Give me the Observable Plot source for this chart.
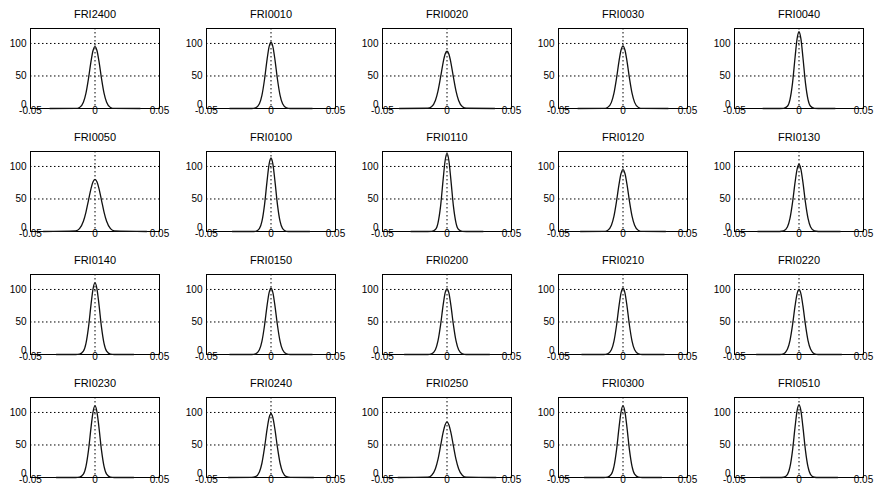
<!DOCTYPE html>
<html>
<head>
<meta charset="utf-8">
<script src="https://cdn.jsdelivr.net/npm/d3@7"></script>
<script src="https://cdn.jsdelivr.net/npm/@observablehq/plot@0.6"></script>
<style>
  html, body { margin: 0; padding: 0; background: #fff; }
  #chart { width: 880px; height: 496px; }
</style>
</head>
<body>
<div id="chart"></div>
<script>
// Panel titles (row-major, 4 rows x 5 columns)
const titles = ["FRI2400","FRI0010","FRI0020","FRI0030","FRI0040",
                "FRI0050","FRI0100","FRI0110","FRI0120","FRI0130",
                "FRI0140","FRI0150","FRI0200","FRI0210","FRI0220",
                "FRI0230","FRI0240","FRI0250","FRI0300","FRI0510"];

// Extent of each sampled curve (where the flat zero line starts / ends)
const lo = [-0.035,-0.032,-0.037,-0.035,-0.028, -0.040,-0.030,-0.028,-0.033,-0.032,
            -0.030,-0.032,-0.033,-0.032,-0.033, -0.030,-0.033,-0.038,-0.030,-0.030];
const hi = [ 0.035, 0.032, 0.037, 0.035, 0.028,  0.040, 0.030, 0.028, 0.033, 0.032,
             0.030, 0.032, 0.033, 0.032, 0.033,  0.030, 0.033, 0.038, 0.030, 0.030];

// Shared sample positions around the peak
const xs = [-0.015,-0.012,-0.009,-0.007,-0.005,-0.003,-0.0015,0,0.0015,0.003,0.005,0.007,0.009,0.012,0.015];

// Density values at the sample positions
const fri2400 = [0.1,1.6,9.6,23.7,46.7,73.6,89.1,95,89.1,73.6,46.7,23.7,9.6,1.6,0.1];
const fri0010 = [0,0.9,7.2,20.6,45.0,76.0,94.8,102,94.8,76.0,45.0,20.6,7.2,0.9,0];
const fri0020 = [0.4,2.6,12.2,26.7,47.9,70.7,83.3,88,83.3,70.7,47.9,26.7,12.2,2.6,0.4];
const fri0030 = [0.1,1.5,9.4,23.5,46.6,74.0,90.0,96,90.0,74.0,46.6,23.5,9.4,1.5,0.1];
const fri0040 = [0,0.2,3.4,13.8,39.5,79.6,106.9,118,106.9,79.6,39.5,13.8,3.4,0.2,0];
const fri0050 = [0.9,4.4,15.7,29.9,48.4,66.8,76.5,80,76.5,66.8,48.4,29.9,15.7,4.4,0.9];
const fri0100 = [0,0.3,4.4,15.8,41.4,78.7,103.2,113,103.2,78.7,41.4,15.8,4.4,0.3,0];
const fri0110 = [0,0.2,3.0,13.0,38.6,79.8,108.4,120,108.4,79.8,38.6,13.0,3.0,0.2,0];
const fri0120 = [0.1,1.6,9.6,23.7,46.7,73.6,89.1,95,89.1,73.6,46.7,23.7,9.6,1.6,0.1];
const fri0130 = [0,0.8,6.9,20.1,44.7,76.3,95.6,103,95.6,76.3,44.7,20.1,6.9,0.8,0];
const fri0140 = [0,0.5,5.1,17.2,42.6,78.2,101.0,110,101.0,78.2,42.6,17.2,5.1,0.5,0];
const fri0150 = [0,0.9,7.2,20.6,45.0,76.0,94.8,102,94.8,76.0,45.0,20.6,7.2,0.9,0];
const fri0200 = [0,1.0,7.3,20.8,45.1,75.8,94.5,101,94.5,75.8,45.1,20.8,7.3,1.0,0];
const fri0210 = [0,0.9,7.2,20.6,45.0,76.0,94.8,102,94.8,76.0,45.0,20.6,7.2,0.9,0];
const fri0220 = [0,1.1,7.9,21.5,45.6,75.4,93.2,100,93.2,75.4,45.6,21.5,7.9,1.1,0];
const fri0230 = [0,0.5,5.1,17.2,42.6,78.2,101.0,110,101.0,78.2,42.6,17.2,5.1,0.5,0];
const fri0240 = [0.1,1.3,8.5,22.3,46.1,74.7,91.6,98,91.6,74.7,46.1,22.3,8.5,1.3,0.1];
const fri0250 = [0.5,3.2,13.5,27.9,48.2,69.3,80.8,85,80.8,69.3,48.2,27.9,13.5,3.2,0.5];
const fri0300 = [0,0.5,5.1,17.2,42.6,78.2,101.0,110,101.0,78.2,42.6,17.2,5.1,0.5,0];
const fri0510 = [0,0.4,4.6,16.2,41.8,78.5,102.5,112,102.5,78.5,41.8,16.2,4.6,0.4,0];

const series = [fri2400,fri0010,fri0020,fri0030,fri0040,
                fri0050,fri0100,fri0110,fri0120,fri0130,
                fri0140,fri0150,fri0200,fri0210,fri0220,
                fri0230,fri0240,fri0250,fri0300,fri0510];

// Axis ticks
const xTicks = [-0.05, 0, 0.05];
const xTickLabels = ["-0.05", "0", "0.05"];
const yTicksUpper = [50, 100];
const yTickZero = [0];
const gridYTicks = [50, 100];
const gridXTicks = [0];

const nCols = 5;
const points = [];
series.forEach((ys, i) => {
  const col = i % nCols, row = Math.floor(i / nCols);
  points.push({panel: titles[i], col, row, x: lo[i], y: 0});
  xs.forEach((x, j) => points.push({panel: titles[i], col, row, x, y: ys[j]}));
  points.push({panel: titles[i], col, row, x: hi[i], y: 0});
});
const titleRows = titles.map((t, i) => ({t, col: i % nCols, row: Math.floor(i / nCols)}));

const chart = Plot.plot({
  width: 880,
  height: 496,
  marginLeft: 29,
  marginRight: 16,
  marginTop: 28,
  marginBottom: 19,
  style: {fontFamily: "'Liberation Sans', Arial, sans-serif", fontSize: "10px", background: "#fff", color: "#000"},
  fx: {domain: [0,1,2,3,4], paddingInner: 0.269, paddingOuter: 0, axis: null},
  fy: {domain: [0,1,2,3], paddingInner: 0.351, paddingOuter: 0, axis: null},
  x: {domain: [-0.05, 0.05], axis: null},
  y: {domain: [0, 123], axis: null},
  marks: [
    Plot.gridY(gridYTicks, {stroke: "#000", strokeOpacity: 1, strokeWidth: 1, strokeDasharray: "1.5,2.5", facetAnchor: null}),
    Plot.gridX(gridXTicks, {stroke: "#000", strokeOpacity: 1, strokeWidth: 1, strokeDasharray: "1.5,2.5", facetAnchor: null}),
    Plot.frame({stroke: "#000", strokeWidth: 1}),
    Plot.line(points, {x: "x", y: "y", z: "panel", fx: "col", fy: "row", stroke: "#111", strokeWidth: 1.3, curve: "monotone-x"}),
    Plot.axisX(xTicks, {tickSize: 0, tickPadding: -2, tickFormat: (d, i) => xTickLabels[i], fontSize: 10, label: null, facetAnchor: null}),
    Plot.axisY(yTicksUpper, {tickSize: 0, tickPadding: 4, fontSize: 10, label: null, facetAnchor: null}),
    Plot.axisY(yTickZero, {tickSize: 0, tickPadding: 4, fontSize: 10, label: null, dy: -4, facetAnchor: null}),
    Plot.text(titleRows, {fx: "col", fy: "row", text: "t", frameAnchor: "top", dy: -14, fontSize: 11, lineAnchor: "middle"})
  ]
});
document.getElementById("chart").appendChild(chart);
</script>
</body>
</html>
